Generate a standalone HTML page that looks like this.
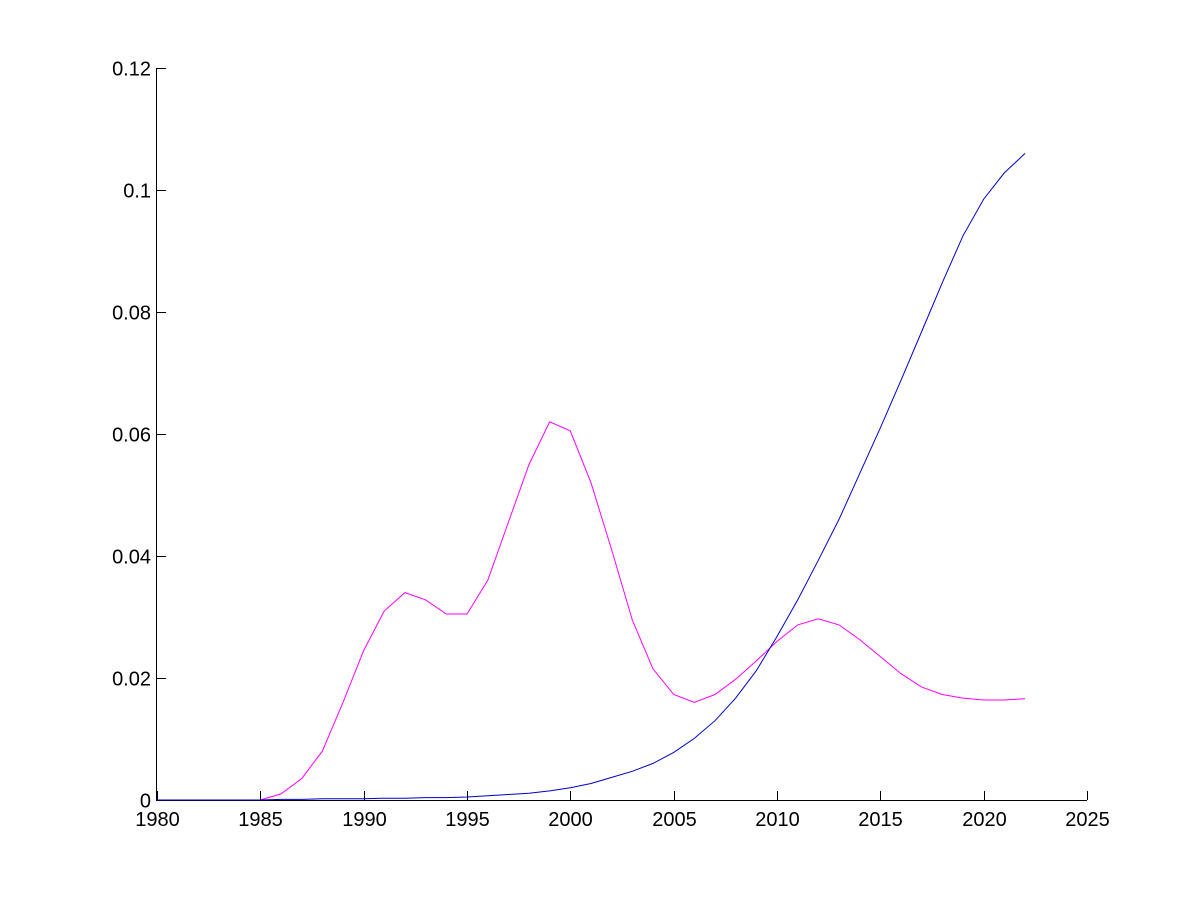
<!DOCTYPE html>
<html><head><style>html,body{margin:0;background:#fff;width:1200px;height:900px;overflow:hidden}
text{font-family:"Liberation Sans",Arial,sans-serif;font-size:20px;fill:#000}</style></head>
<body>
<svg id="s" width="1200" height="900" xmlns="http://www.w3.org/2000/svg">
<rect width="1200" height="900" fill="#fff"/>
<g id="g" stroke="#000" stroke-width="1" fill="none"></g>
<g id="t"></g>
<polyline id="m" fill="none" stroke="#ff00ff" stroke-width="1"/>
<polyline id="b" fill="none" stroke="#0000cc" stroke-width="1"/>
</svg>
<script>
var X=function(y){return 157+(y-1980)*930/45},Y=function(v){return 800-v*732/0.12};
var g=document.getElementById('g'),t=document.getElementById('t'),ns='http://www.w3.org/2000/svg';
function el(p,n,a,txt){var e=document.createElementNS(ns,n);for(var k in a)e.setAttribute(k,a[k]);if(txt!=null)e.textContent=txt;p.appendChild(e);}
el(g,'path',{d:'M156.5 68V800.5H1087'});
for(var yr=1980;yr<=2025;yr+=5){var x=Math.round(X(yr))+0.5;el(g,'path',{d:'M'+x+' 800V791'});el(t,'text',{x:x,y:826,'text-anchor':'middle'},String(yr));}
var yl=['0','0.02','0.04','0.06','0.08','0.1','0.12'];
for(var i=0;i<7;i++){var y=Math.round(Y(i*0.02))+0.5;el(g,'path',{d:'M157 '+y+'H166'});el(t,'text',{x:151,y:y+7,'text-anchor':'end'},yl[i]);}
var mv=[0,0,0,0,0,0,0.001,0.0035,0.008,0.016,0.0245,0.031,0.034,0.0328,0.0305,0.0305,0.036,0.0455,0.055,0.062,0.0605,0.052,0.041,0.0295,0.0215,0.0173,0.016,0.0173,0.0198,0.0228,0.026,0.0287,0.0297,0.0287,0.0263,0.0235,0.0207,0.0185,0.0173,0.0167,0.0164,0.0164,0.0166];
var bv=[0,0,0,0,0,0,0.0001,0.0001,0.0002,0.0002,0.0002,0.0003,0.0003,0.0004,0.0004,0.0005,0.0007,0.0009,0.0011,0.0015,0.002,0.0027,0.0037,0.0047,0.006,0.0078,0.0101,0.013,0.0167,0.0212,0.0268,0.0328,0.0393,0.046,0.0535,0.061,0.0688,0.0768,0.0848,0.0925,0.0985,0.1028,0.106];
function pts(a){return a.map(function(v,i){return X(1980+i).toFixed(1)+','+Y(v).toFixed(1)}).join(' ')}
document.getElementById('m').setAttribute('points',pts(mv));
document.getElementById('b').setAttribute('points',pts(bv));
</script>
</body></html>
